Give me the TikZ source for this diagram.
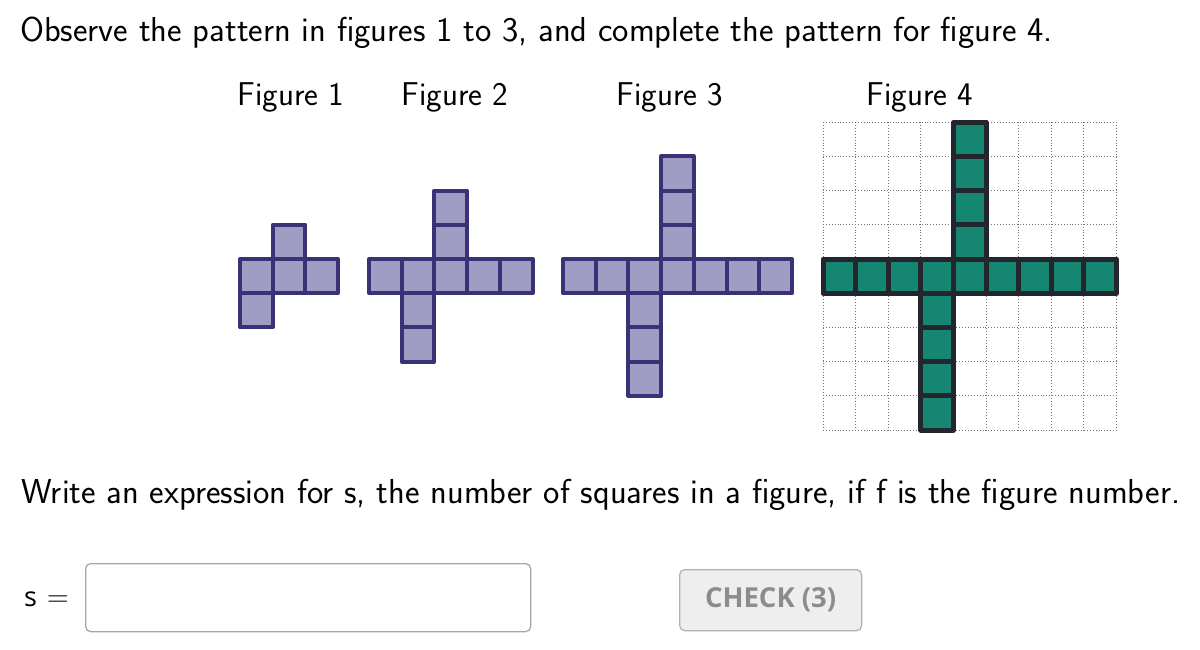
\documentclass[tikz,border=0pt]{standalone}
\usepackage{fontspec}
\newfontfamily\uifont{Open Sans}
\usetikzlibrary{calc, positioning}
\definecolor{lila}{RGB}{160,156,196}
\definecolor{lilarand}{RGB}{56,50,118}
\definecolor{gruen}{RGB}{20,134,114}
\definecolor{gruenrand}{RGB}{35,38,44}

\begin{document}
\begin{tikzpicture}[x=1pt, y=-1pt,
    txt/.style={font=\sffamily\fontsize{33}{38}\selectfont, inner sep=0pt},
    satz/.style={txt, font=\sffamily\fontsize{34.6}{40}\selectfont},
    cell/.style={fill=lila, draw=lilarand, line width=4pt, line join=round},
    cellneu/.style={fill=gruen, draw=gruenrand, line width=5pt, line join=round},
    raster/.style={black!55, dotted, line width=0.9pt},
    eingabe/.style={draw=gray!70, line width=1.3pt, rounded corners=5pt},
    knopf/.style={draw=gray!60, fill=gray!13, line width=1.3pt, rounded corners=5pt,
        text=gray!90, font=\uifont\bfseries\fontsize{27.5}{32}\selectfont}
]
\useasboundingbox (0,0) rectangle (1200,649);

% Aufgabentext
\node[satz, anchor=base west] (aufgabe) at (20,41)
    {Observe the pattern in figures 1 to 3, and complete the pattern for figure 4.};

% Beschriftung der Figuren
\node[txt, anchor=base] (fig1) at (291,105) {Figure 1};
\node[txt, anchor=base] (fig2) at (455,105) {Figure 2};
\node[txt, anchor=base] (fig3) at (670,105) {Figure 3};
\node[txt, anchor=base] (fig4) at (920,105) {Figure 4};

% Figuren 1 bis 3
\foreach \n/\x in {1/240, 2/369, 3/563} {
  \begin{scope}[shift={(\x,259)}, x=32.7pt, y=-34.2pt]
    \pgfmathtruncatemacro{\m}{2*\n}
    \foreach \i in {0,...,\m}
      \draw[cell] (\i,0) rectangle ++(1,1);
    \foreach \j in {1,...,\n} {
      \draw[cell] (\n,-\j) rectangle ++(1,1);
      \draw[cell] (\n-1,\j) rectangle ++(1,1);
    }
  \end{scope}
}

% Figur 4 mit Raster
\begin{scope}[shift={(823,259)}, x=32.6pt, y=-34.2pt]
  \foreach \k in {0,...,9} {
    \draw[raster] (\k,-4) -- (\k,5);
    \draw[raster] (0,\k-4) -- (9,\k-4);
  }
  \foreach \i in {0,...,8}
    \draw[cellneu] (\i,0) rectangle ++(1,1);
  \foreach \j in {1,...,4} {
    \draw[cellneu] (4,-\j) rectangle ++(1,1);
    \draw[cellneu] (3,\j) rectangle ++(1,1);
  }
\end{scope}

% Frage
\node[satz, anchor=base west] (frage) at (21,503)
    {Write an expression for s, the number of squares in a figure, if f is the figure number.};

% Eingabe und Knopf
\node[anchor=base west, inner sep=0pt] (s) at (24,606)
    {{\uifont\fontsize{27}{30}\selectfont s}\hspace{10pt}{\fontsize{30}{34}\selectfont =}};
\node[eingabe, minimum width=445pt, minimum height=68pt, anchor=north west] (feld) at (85,563) {};
\node[knopf, minimum width=182pt, minimum height=61pt, anchor=north west] (check) at (679,569) {CHECK (3)};

\end{tikzpicture}
\end{document}
